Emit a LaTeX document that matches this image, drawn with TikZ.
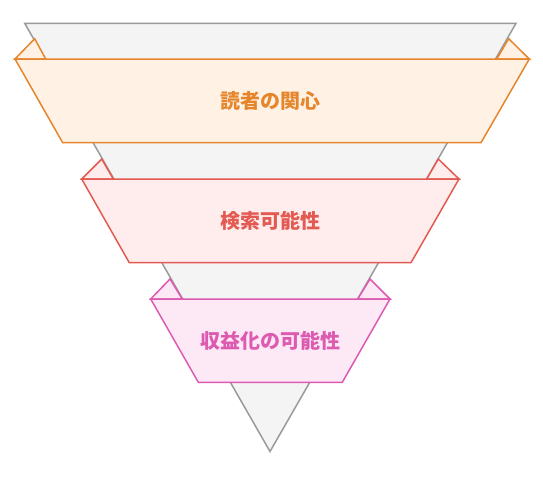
\documentclass[tikz,border=0pt]{standalone}
\usepackage{fontspec}
\newfontfamily\jpfont{Noto Sans CJK JP}
\usepackage{tikz}
\usetikzlibrary{positioning}

\definecolor{funnelline}{HTML}{9A9A9A}
\definecolor{funnelfill}{HTML}{F4F4F4}
\definecolor{orangeline}{HTML}{E5862D}
\definecolor{orangefill}{HTML}{FFF1E4}
\definecolor{redline}{HTML}{E35A52}
\definecolor{redfill}{HTML}{FFECEC}
\definecolor{pinkline}{HTML}{DC5BB0}
\definecolor{pinkfill}{HTML}{FDE8F6}

\begin{document}
\begin{tikzpicture}[
    x=1pt, y=1pt,
    band/.style = {line width=1.5pt, line join=miter, draw=#1line, fill=#1fill},
    bandtext/.style = {text=#1line, font=\jpfont\bfseries\fontsize{20}{22}\selectfont,
                    inner sep=0pt}
    ]
            % styles
            \tikzstyle{funnel} = [line width=1.5pt, draw=funnelline, fill=funnelfill]

            \useasboundingbox (0,0) rectangle (543,-477);

            % funnel
            \draw [funnel] (24.7,-23.3) -- (516,-23.3) -- (270,-451.5) -- cycle;

            % top band
            \draw [band=orange] (15,-59) -- (34.7,-38.7) -- (45.7,-59) -- cycle;
            \draw [band=orange] (529.3,-59) -- (508.7,-38.7) -- (496.7,-59) -- cycle;
            \draw [band=orange] (15,-59) -- (529.3,-59) -- (481,-142.7) -- (62.7,-142.7) -- cycle;
            \node (interest) [bandtext=orange] at (270,-100.9) {読者の関心};

            % middle band
            \draw [band=red] (81.7,-179) -- (101.7,-159) -- (113.3,-179) -- cycle;
            \draw [band=red] (459,-179) -- (438.3,-159) -- (426.7,-179) -- cycle;
            \draw [band=red] (81.7,-179) -- (459,-179) -- (411,-262.7) -- (129.3,-262.7) -- cycle;
            \node (search) [bandtext=red] at (270,-220.8) {検索可能性};

            % bottom band
            \draw [band=pink] (150.7,-299) -- (170,-279) -- (182.3,-299) -- cycle;
            \draw [band=pink] (390,-299) -- (370,-279) -- (357.7,-299) -- cycle;
            \draw [band=pink] (150.7,-299) -- (390,-299) -- (342.3,-382.3) -- (198.3,-382.3) -- cycle;
            \node (revenue) [bandtext=pink] at (270,-340.7) {収益化の可能性};
\end{tikzpicture}
\end{document}
